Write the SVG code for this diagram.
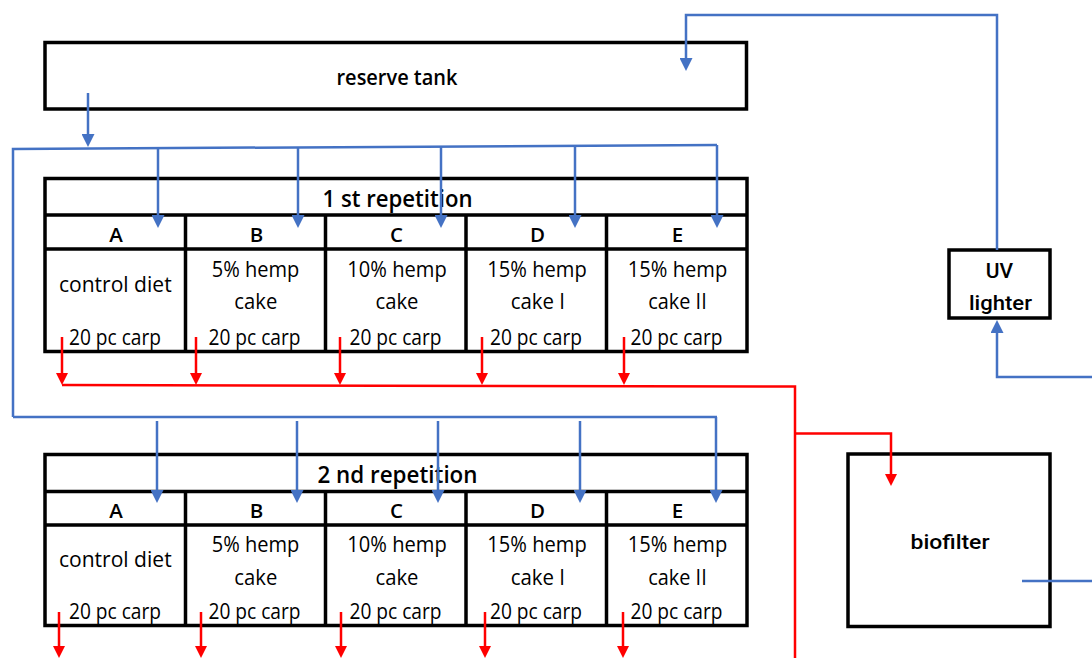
<svg xmlns="http://www.w3.org/2000/svg" width="1092" height="658" viewBox="0 0 1092 658">
  <style>
    .box { fill: #ffffff; stroke: #000000; stroke-width: 3.5; }
    .grid { fill: none; stroke: #000000; stroke-width: 3.5; }
    .t { font-family: "Open Sans", "Liberation Sans", sans-serif; fill: #000000; text-anchor: middle; }
    .lbl { font-size: 22px; font-weight: 600; }
    .title { font-size: 23.5px; font-weight: 600; }
    .hdr { font-size: 20.5px; font-weight: 600; }
    .body { font-size: 22.5px; font-weight: 400; }
    .r { font-family: Roboto, "Liberation Sans", sans-serif; fill: #000000; text-anchor: middle; font-size: 21px; font-weight: 500; }
    .blue { fill: none; stroke: #4472C4; stroke-width: 2.5; }
    .red { fill: none; stroke: #FF0000; stroke-width: 2.5; }
  </style>
  <defs>
    <marker id="ab" markerUnits="userSpaceOnUse" markerWidth="13" markerHeight="13" refX="0" refY="6.5" orient="auto" viewBox="0 0 13 13">
      <path d="M0,0 L13,6.5 L0,13 z" fill="#4472C4"/>
    </marker>
    <marker id="ar" markerUnits="userSpaceOnUse" markerWidth="12" markerHeight="12" refX="0" refY="6" orient="auto" viewBox="0 0 12 12">
      <path d="M0,0 L12,6 L0,12 z" fill="#FF0000"/>
    </marker>
  </defs>

  <g id="reserve-tank">
    <rect class="box" x="45" y="42.5" width="701.5" height="66.5"/>
    <text class="t lbl" x="397" y="85" textLength="121" lengthAdjust="spacingAndGlyphs">reserve tank</text>
  </g>

  <g id="repetition-1">
    <rect class="box" x="45" y="178.5" width="702" height="173"/>
    <path class="grid" d="M45,215 H747 M45,249 H747 M185.5,215 V351.5 M325.5,215 V351.5 M466,215 V351.5 M606.5,215 V351.5"/>
    <text class="t title" x="397.5" y="206.5" textLength="150" lengthAdjust="spacingAndGlyphs">1 st repetition</text>
    <text class="t hdr" x="116" y="241.5">A</text>
    <text class="t hdr" x="256.5" y="241.5">B</text>
    <text class="t hdr" x="396.5" y="241.5">C</text>
    <text class="t hdr" x="537.5" y="241.5">D</text>
    <text class="t hdr" x="677.5" y="241.5">E</text>
    <text class="t body" x="115.3" y="292.3" textLength="112.7" lengthAdjust="spacingAndGlyphs">control diet</text>
    <text class="t body" x="255.5" y="276.7" textLength="87.6" lengthAdjust="spacingAndGlyphs">5% hemp</text>
    <text class="t body" x="255.8" y="309.3" textLength="43" lengthAdjust="spacingAndGlyphs">cake</text>
    <text class="t body" x="397" y="276.7" textLength="99.4" lengthAdjust="spacingAndGlyphs">10% hemp</text>
    <text class="t body" x="397" y="309.3" textLength="43" lengthAdjust="spacingAndGlyphs">cake</text>
    <text class="t body" x="537" y="276.7" textLength="99.4" lengthAdjust="spacingAndGlyphs">15% hemp</text>
    <text class="t body" x="537.8" y="309.3" textLength="54.3" lengthAdjust="spacingAndGlyphs">cake I</text>
    <text class="t body" x="677.5" y="276.7" textLength="99.4" lengthAdjust="spacingAndGlyphs">15% hemp</text>
    <text class="t body" x="677.5" y="309.3" textLength="58.4" lengthAdjust="spacingAndGlyphs">cake II</text>
    <text class="t body" x="115" y="344.5" textLength="92" lengthAdjust="spacingAndGlyphs">20 pc carp</text>
    <text class="t body" x="254.5" y="344.5" textLength="92" lengthAdjust="spacingAndGlyphs">20 pc carp</text>
    <text class="t body" x="395.5" y="344.5" textLength="92" lengthAdjust="spacingAndGlyphs">20 pc carp</text>
    <text class="t body" x="536" y="344.5" textLength="92" lengthAdjust="spacingAndGlyphs">20 pc carp</text>
    <text class="t body" x="676.5" y="344.5" textLength="92" lengthAdjust="spacingAndGlyphs">20 pc carp</text>
  </g>

  <g id="repetition-2">
    <rect class="box" x="45" y="454.5" width="702" height="171"/>
    <path class="grid" d="M45,491.5 H747 M45,525 H747 M185.5,491.5 V625.5 M325.5,491.5 V625.5 M466,491.5 V625.5 M606.5,491.5 V625.5"/>
    <text class="t title" x="397.5" y="482.5" textLength="160" lengthAdjust="spacingAndGlyphs">2 nd repetition</text>
    <text class="t hdr" x="116" y="517.5">A</text>
    <text class="t hdr" x="256.5" y="517.5">B</text>
    <text class="t hdr" x="396.5" y="517.5">C</text>
    <text class="t hdr" x="537.5" y="517.5">D</text>
    <text class="t hdr" x="677.5" y="517.5">E</text>
    <text class="t body" x="115.3" y="567.3" textLength="112.7" lengthAdjust="spacingAndGlyphs">control diet</text>
    <text class="t body" x="255.5" y="552" textLength="87.6" lengthAdjust="spacingAndGlyphs">5% hemp</text>
    <text class="t body" x="255.8" y="585" textLength="43" lengthAdjust="spacingAndGlyphs">cake</text>
    <text class="t body" x="397" y="552" textLength="99.4" lengthAdjust="spacingAndGlyphs">10% hemp</text>
    <text class="t body" x="397" y="585" textLength="43" lengthAdjust="spacingAndGlyphs">cake</text>
    <text class="t body" x="537" y="552" textLength="99.4" lengthAdjust="spacingAndGlyphs">15% hemp</text>
    <text class="t body" x="537.8" y="585" textLength="54.3" lengthAdjust="spacingAndGlyphs">cake I</text>
    <text class="t body" x="677.5" y="552" textLength="99.4" lengthAdjust="spacingAndGlyphs">15% hemp</text>
    <text class="t body" x="677.5" y="585" textLength="58.4" lengthAdjust="spacingAndGlyphs">cake II</text>
    <text class="t body" x="115" y="618.5" textLength="92" lengthAdjust="spacingAndGlyphs">20 pc carp</text>
    <text class="t body" x="254.5" y="618.5" textLength="92" lengthAdjust="spacingAndGlyphs">20 pc carp</text>
    <text class="t body" x="395.5" y="618.5" textLength="92" lengthAdjust="spacingAndGlyphs">20 pc carp</text>
    <text class="t body" x="536" y="618.5" textLength="92" lengthAdjust="spacingAndGlyphs">20 pc carp</text>
    <text class="t body" x="676.5" y="618.5" textLength="92" lengthAdjust="spacingAndGlyphs">20 pc carp</text>
  </g>

  <g id="uv-lighter">
    <rect class="box" x="949" y="250" width="101" height="68"/>
    <text class="r" x="999.5" y="278">UV</text>
    <text class="r" x="1000.5" y="310" textLength="63" lengthAdjust="spacingAndGlyphs">lighter</text>
  </g>

  <g id="biofilter">
    <rect class="box" x="848" y="454" width="202" height="172.5"/>
    <text class="r" x="950" y="548.5" textLength="79" lengthAdjust="spacingAndGlyphs">biofilter</text>
  </g>

  <g id="connectors">
    <!-- blue water supply -->
    <path class="blue" d="M88,93 V134" marker-end="url(#ab)"/>
    <path class="blue" d="M13,417 V149 L717,145"/>
    <path class="blue" d="M158,148.2 V215" marker-end="url(#ab)"/>
    <path class="blue" d="M298,147.4 V215" marker-end="url(#ab)"/>
    <path class="blue" d="M441,146.6 V215" marker-end="url(#ab)"/>
    <path class="blue" d="M575,145.8 V215" marker-end="url(#ab)"/>
    <path class="blue" d="M717,145 V215" marker-end="url(#ab)"/>
    <path class="blue" d="M13,417 H717"/>
    <path class="blue" d="M157,421 V490" marker-end="url(#ab)"/>
    <path class="blue" d="M297,421 V490" marker-end="url(#ab)"/>
    <path class="blue" d="M438,421 V490" marker-end="url(#ab)"/>
    <path class="blue" d="M580,421 V490" marker-end="url(#ab)"/>
    <path class="blue" d="M716,417 V490" marker-end="url(#ab)"/>
    <path class="blue" d="M997,250 V15 H686 V58" marker-end="url(#ab)"/>
    <path class="blue" d="M1092,377 H997 V333" marker-end="url(#ab)"/>
    <path class="blue" d="M1022,581 H1092"/>
    <!-- red outflow -->
    <path class="red" d="M62,337 V373" marker-end="url(#ar)"/>
    <path class="red" d="M196,337 V373" marker-end="url(#ar)"/>
    <path class="red" d="M340,337 V373" marker-end="url(#ar)"/>
    <path class="red" d="M482,337 V373" marker-end="url(#ar)"/>
    <path class="red" d="M624,337 V373" marker-end="url(#ar)"/>
    <path class="red" d="M62,385 L795,386.5 V658"/>
    <path class="red" d="M795,433.5 H891 V474" marker-end="url(#ar)"/>
    <path class="red" d="M59,612 V646" marker-end="url(#ar)"/>
    <path class="red" d="M201,612 V646" marker-end="url(#ar)"/>
    <path class="red" d="M341,612 V646" marker-end="url(#ar)"/>
    <path class="red" d="M485,612 V646" marker-end="url(#ar)"/>
    <path class="red" d="M623,612 V646" marker-end="url(#ar)"/>
  </g>
</svg>
